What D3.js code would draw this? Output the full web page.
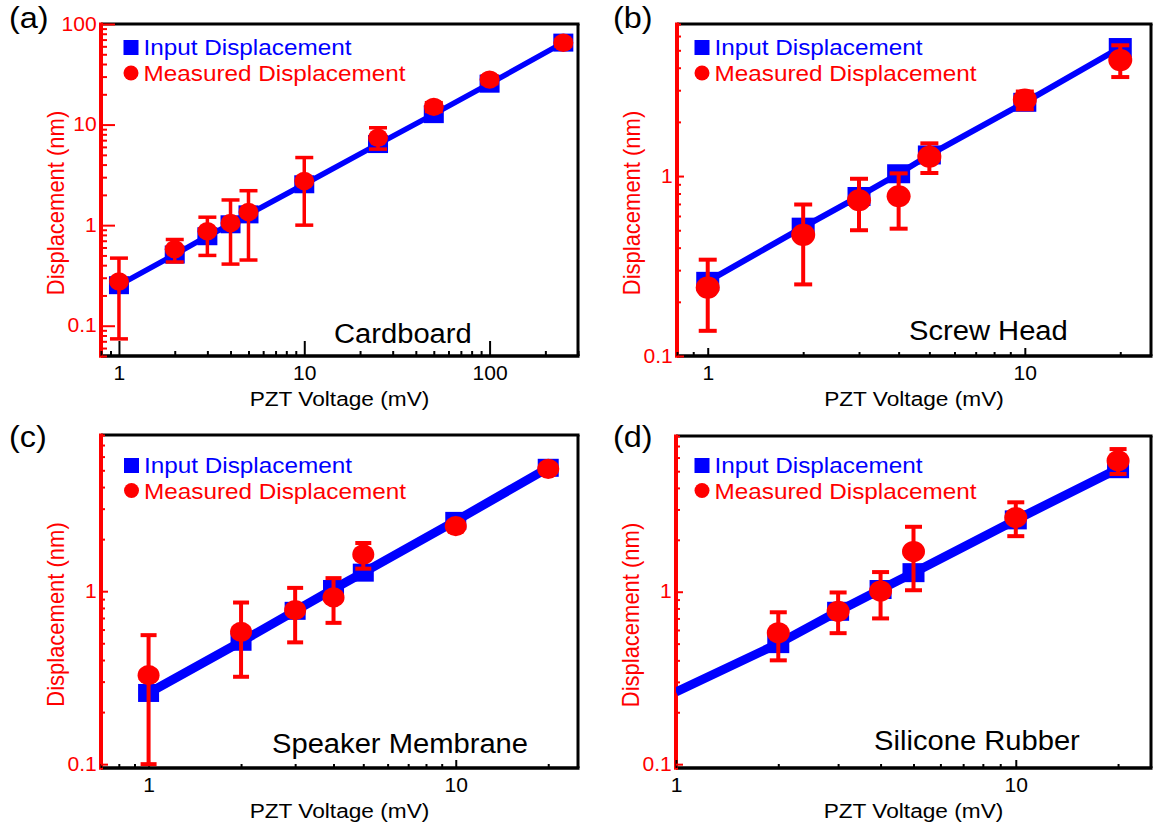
<!DOCTYPE html>
<html>
<head>
<meta charset="utf-8">
<script src="https://cdn.jsdelivr.net/npm/d3@7"></script>
<style>
  body { margin: 0; background: #fff; }
  text { font-family: "Liberation Sans", Arial, sans-serif; }
</style>
</head>
<body>
<svg id="fig" width="1153" height="823"></svg>
<script>
// (a) cardboard
const voltsA = [1, 2, 3, 4, 5, 10, 25, 50, 100, 250];
const inputA = [0.253, 0.51, 0.776, 1.02, 1.28, 2.55, 6.4, 12.7, 25.5, 65.3];
const measA = [0.275, 0.575, 0.87, 1.05, 1.35, 2.75, 7.4, 15, 28, 65];
const measLowA = [0.074, 0.43, 0.5, 0.41, 0.45, 1.0, 5.7, 13.5, 25.5, 60];
const measHighA = [0.47, 0.72, 1.2, 1.78, 2.2, 4.7, 9.3, 16.5, 30.5, 70];

// (b) screw head
const voltsB = [1, 2, 3, 4, 5, 10, 20];
const inputB = [0.26, 0.52, 0.77, 1.03, 1.31, 2.57, 5.18];
const measB = [0.24, 0.471, 0.734, 0.773, 1.28, 2.66, 4.41];
const measLowB = [0.138, 0.25, 0.5, 0.51, 1.04, 2.35, 3.55];
const measHighB = [0.343, 0.695, 0.966, 1.035, 1.52, 2.95, 5.33];

// (c) speaker membrane
const voltsC = [1, 2, 3, 4, 5, 10, 20];
const inputC = [0.258, 0.51, 0.77, 1.03, 1.28, 2.55, 5.17];
const measC = [0.327, 0.582, 0.777, 0.92, 1.63, 2.38, 5.1];
const measLowC = [0.1, 0.32, 0.506, 0.656, 1.35, 2.22, 4.85];
const measHighC = [0.557, 0.86, 1.045, 1.19, 1.9, 2.55, 5.4];

// (d) silicone rubber
const inputVoltsD = [1, 2, 3, 4, 5, 10, 20];
const inputD = [0.262, 0.5, 0.77, 1.03, 1.29, 2.61, 5.17];
const voltsD = [2, 3, 4, 5, 10, 20];
const measD = [0.578, 0.77, 1.01, 1.71, 2.69, 5.75];
const measLowD = [0.4, 0.575, 0.7, 1.02, 2.1, 4.82];
const measHighD = [0.76, 0.99, 1.3, 2.38, 3.3, 6.72];

const panelLabels = ["(a)", "(b)", "(c)", "(d)"];
const sampleNames = ["Cardboard", "Screw Head", "Speaker Membrane", "Silicone Rubber"];
const xDomains = [[0.8, 300], [0.8, 25], [0.7, 25], [1, 25]];
const yDomains = [[0.05, 100], [0.1, 7], [0.095, 8], [0.095, 8]];
const xTickLabels = [[1, 10, 100], [1, 10], [1, 10], [1, 10]];
const yTickLabels = [[0.1, 1, 10, 100], [0.1, 1], [0.1, 1], [0.1, 1]];
const legendLabels = ["Input Displacement", "Measured Displacement"];
const xTitle = "PZT Voltage (mV)";
const yTitle = "Displacement (nm)";

const series = [
  {inX: voltsA, inY: inputA, x: voltsA, y: measA, lo: measLowA, hi: measHighA},
  {inX: voltsB, inY: inputB, x: voltsB, y: measB, lo: measLowB, hi: measHighB},
  {inX: voltsC, inY: inputC, x: voltsC, y: measC, lo: measLowC, hi: measHighC},
  {inX: inputVoltsD, inY: inputD, x: voltsD, y: measD, lo: measLowD, hi: measHighD}
];

// panel boxes and per-panel styling
const frames = [
  {left: 101, right: 578, top: 24, bottom: 356, lw: 5.5, sq: [20, 18], r: 10, cap: 18, eb: 3.5,
   xMaj: 15, xMin: 5, yMaj: 14, yMin: 6, label: [9, 28], name: [334, 343], legend: [131, 47.5, 25.5]},
  {left: 677, right: 1151, top: 24, bottom: 356, lw: 6, sq: [23, 19], r: 12, cap: 18, eb: 4,
   xMaj: 8, xMin: 4, yMaj: 7, yMin: 4, label: [613, 28], name: [909, 340], legend: [702, 47.5, 25.5]},
  {left: 101, right: 578, top: 435, bottom: 768, lw: 9, sq: [21, 18], r: 11, cap: 16, eb: 4,
   xMaj: 8, xMin: 4, yMaj: 7, yMin: 4, label: [9, 447], name: [272, 753], legend: [131.5, 465.5, 25]},
  {left: 676, right: 1151, top: 436, bottom: 768, lw: 9, sq: [22, 19], r: 11.5, cap: 17, eb: 4,
   xMaj: 8, xMin: 4, yMaj: 7, yMin: 4, label: [613, 447], name: [874, 750], legend: [702, 465.5, 25]}
];

const BLUE = "#0000ff";
const RED = "#ff0000";
const STRETCH = "scale(1.08,1)";

const svg = d3.select("#fig");
const isDecade = v => Math.abs(Math.log10(v) - Math.round(Math.log10(v))) < 1e-9;

frames.forEach((f, i) => {
  const s = series[i];
  const x = d3.scaleLog().domain(xDomains[i]).range([f.left, f.right]);
  const y = d3.scaleLog().domain(yDomains[i]).range([f.bottom, f.top]);
  const g = svg.append("g");

  // frame
  g.append("line").attr("x1", f.left).attr("x2", f.right + 1.5).attr("y1", f.top).attr("y2", f.top)
    .attr("stroke", "#000").attr("stroke-width", 3);
  g.append("line").attr("x1", f.right).attr("x2", f.right).attr("y1", f.top).attr("y2", f.bottom)
    .attr("stroke", "#000").attr("stroke-width", 3);
  g.append("line").attr("x1", f.left).attr("x2", f.right + 1.5).attr("y1", f.bottom).attr("y2", f.bottom)
    .attr("stroke", "#000").attr("stroke-width", 3.5);
  g.append("line").attr("x1", f.left).attr("x2", f.left).attr("y1", f.top - 1.5).attr("y2", f.bottom + 1.75)
    .attr("stroke", RED).attr("stroke-width", 4);

  // x axis: minor then major ticks, pointing inward
  const xt = x.ticks();
  const xAxisMin = g.append("g").attr("transform", `translate(0,${f.bottom})`)
    .call(d3.axisBottom(x).tickValues(xt.filter(v => !isDecade(v))).tickSize(-f.xMin).tickFormat(""));
  const xAxisMaj = g.append("g").attr("transform", `translate(0,${f.bottom})`)
    .call(d3.axisBottom(x).tickValues(xTickLabels[i]).tickSize(-f.xMaj).tickPadding(10)
      .tickFormat(d3.format("~g")));
  [xAxisMin, xAxisMaj].forEach(a => {
    a.select(".domain").remove();
    a.selectAll(".tick line").attr("stroke", "#000").attr("stroke-width", 2);
  });
  xAxisMaj.selectAll("text").attr("fill", "#000").attr("font-size", 19.5)
    .attr("font-family", "Liberation Sans, Arial, sans-serif").attr("transform", STRETCH);

  // y axis in red
  const yt = y.ticks();
  const yAxisMin = g.append("g").attr("transform", `translate(${f.left},0)`)
    .call(d3.axisLeft(y).tickValues(yt.filter(v => !isDecade(v))).tickSize(-f.yMin).tickFormat(""));
  const yAxisMaj = g.append("g").attr("transform", `translate(${f.left},0)`)
    .call(d3.axisLeft(y).tickValues(yTickLabels[i]).tickSize(-f.yMaj).tickPadding(4)
      .tickFormat(d3.format("~g")));
  [yAxisMin, yAxisMaj].forEach(a => {
    a.select(".domain").remove();
    a.selectAll(".tick line").attr("stroke", RED).attr("stroke-width", 2);
  });
  yAxisMaj.selectAll("text").attr("fill", RED).attr("font-size", 19.5)
    .attr("font-family", "Liberation Sans, Arial, sans-serif").attr("transform", STRETCH);

  // data
  const clipId = "clip" + i;
  svg.append("clipPath").attr("id", clipId).append("rect")
    .attr("x", f.left).attr("y", f.top).attr("width", f.right - f.left).attr("height", f.bottom - f.top);
  const plot = g.append("g").attr("clip-path", `url(#${clipId})`);

  const inputPts = d3.zip(s.inX, s.inY);
  plot.append("path").datum(inputPts)
    .attr("d", d3.line().x(d => x(d[0])).y(d => y(d[1])))
    .attr("fill", "none").attr("stroke", BLUE).attr("stroke-width", f.lw).attr("stroke-linejoin", "round");

  // square markers at the voltages that were measured
  plot.selectAll("rect.input").data(inputPts.filter(d => s.x.includes(d[0])))
    .join("rect").attr("class", "input")
    .attr("x", d => x(d[0]) - f.sq[0] / 2).attr("y", d => y(d[1]) - f.sq[1] / 2)
    .attr("width", f.sq[0]).attr("height", f.sq[1]).attr("fill", BLUE);

  const meas = s.x.map((v, k) => ({v, m: s.y[k], lo: s.lo[k], hi: s.hi[k]}));
  const eb = plot.selectAll("g.err").data(meas).join("g").attr("class", "err")
    .attr("stroke", RED).attr("stroke-width", f.eb);
  eb.append("line").attr("x1", d => x(d.v)).attr("x2", d => x(d.v))
    .attr("y1", d => y(d.lo)).attr("y2", d => y(d.hi));
  eb.append("line").attr("x1", d => x(d.v) - f.cap / 2).attr("x2", d => x(d.v) + f.cap / 2)
    .attr("y1", d => y(d.lo)).attr("y2", d => y(d.lo));
  eb.append("line").attr("x1", d => x(d.v) - f.cap / 2).attr("x2", d => x(d.v) + f.cap / 2)
    .attr("y1", d => y(d.hi)).attr("y2", d => y(d.hi));

  plot.selectAll("ellipse.meas").data(meas).join("ellipse").attr("class", "meas")
    .attr("cx", d => x(d.v)).attr("cy", d => y(d.m))
    .attr("rx", f.r).attr("ry", f.r * 0.92).attr("fill", RED);

  // legend
  const [lx, ly, ldy] = f.legend;
  g.append("rect").attr("x", lx - 7.5).attr("y", ly - 7.5).attr("width", 15).attr("height", 15).attr("fill", BLUE);
  g.append("circle").attr("cx", lx).attr("cy", ly + ldy).attr("r", 7.5).attr("fill", RED);
  g.append("text").attr("transform", `translate(${lx + 12.5},${ly + 7.5}) ${STRETCH}`)
    .attr("font-size", 22.5).attr("fill", BLUE).text(legendLabels[0]);
  g.append("text").attr("transform", `translate(${lx + 12.5},${ly + ldy + 8}) ${STRETCH}`)
    .attr("font-size", 22.5).attr("fill", RED).text(legendLabels[1]);

  // sample name
  g.append("text").attr("transform", `translate(${f.name[0]},${f.name[1]}) ${STRETCH}`)
    .attr("font-size", 27).attr("fill", "#000").text(sampleNames[i]);

  // axis titles
  g.append("text").attr("transform", `translate(${(f.left + f.right) / 2},${f.bottom + 50}) ${STRETCH}`)
    .attr("text-anchor", "middle").attr("font-size", 21).attr("fill", "#000").text(xTitle);
  g.append("text")
    .attr("transform", `translate(${f.left - 37},${(f.top + f.bottom) / 2 + 13}) ${STRETCH} rotate(-90)`)
    .attr("text-anchor", "middle").attr("font-size", 22).attr("fill", RED).text(yTitle);

  // panel letter
  g.append("text").attr("transform", `translate(${f.label[0]},${f.label[1]}) ${STRETCH}`)
    .attr("font-size", 30).attr("fill", "#000").text(panelLabels[i]);
});
</script>
</body>
</html>
